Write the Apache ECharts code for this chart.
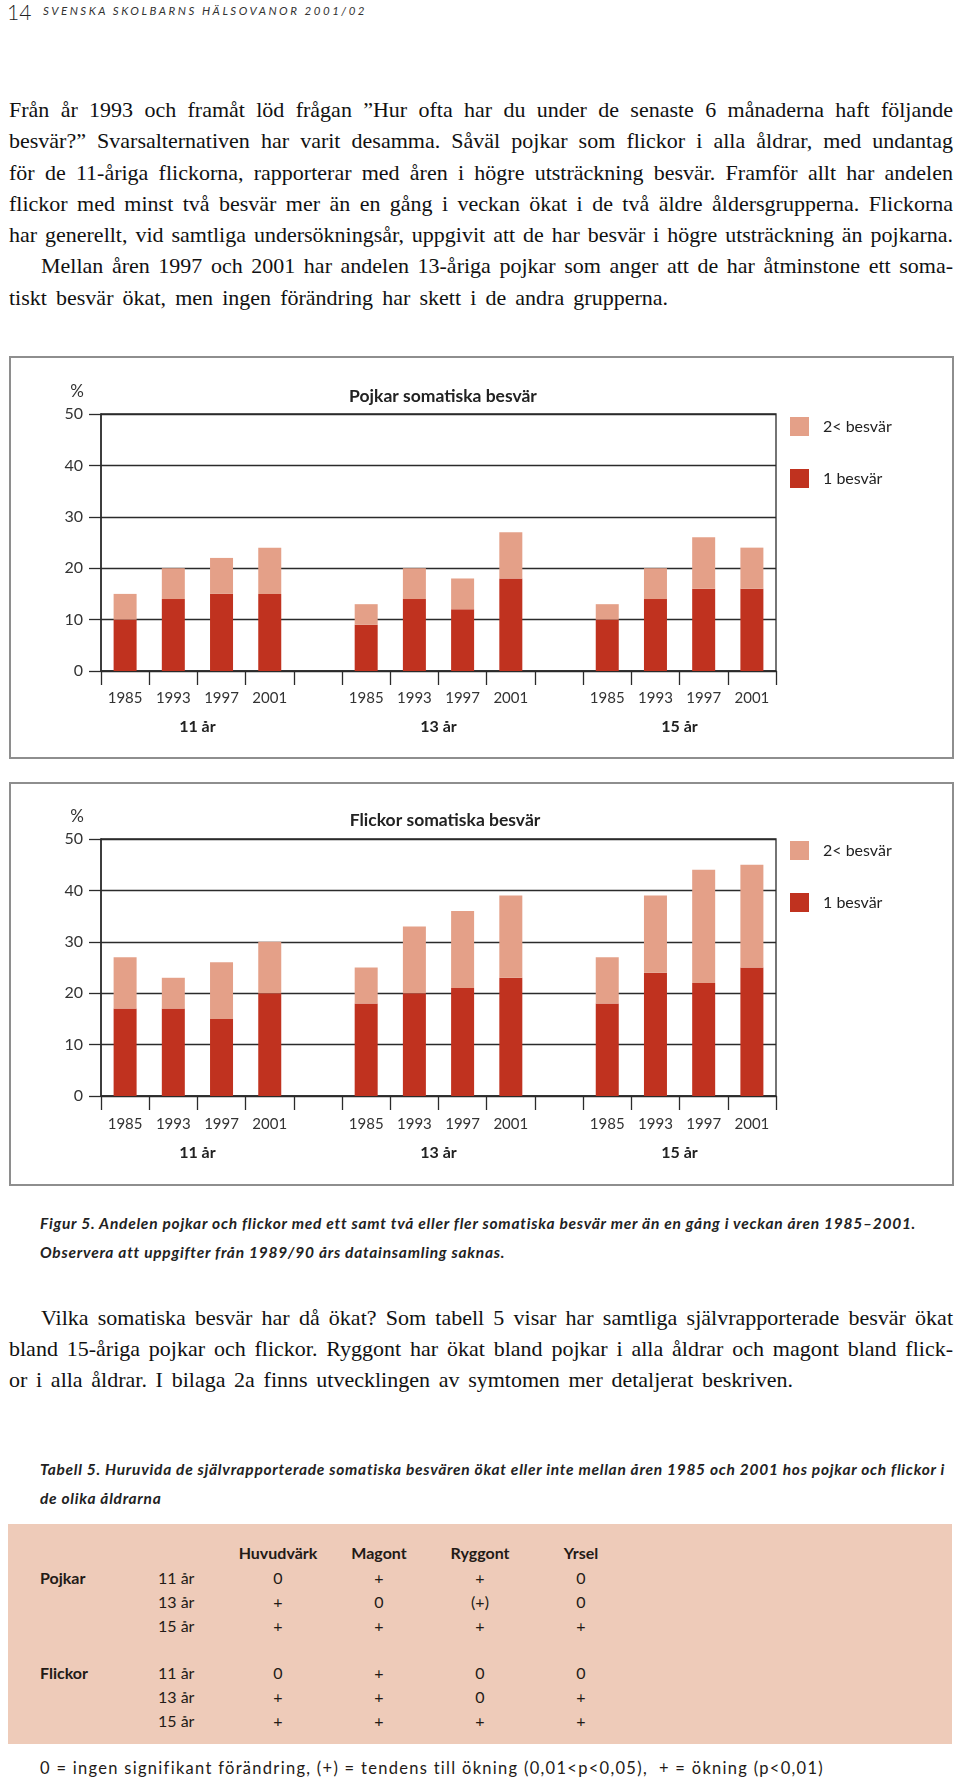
<!DOCTYPE html>
<html>
<head>
<meta charset="utf-8">
<script src="https://cdn.jsdelivr.net/npm/echarts@6/dist/echarts.min.js"></script>
<style>
  html, body { margin: 0; padding: 0; background: #fff; }
  #page { position: relative; width: 960px; height: 1781px; overflow: hidden; color: #1a1a1a; }
  .abs { position: absolute; }
  .serif { font-family: "Liberation Serif", "DejaVu Serif", serif; font-size: 22px; line-height: 31.3px; color: #111; }
  .serif > div { white-space: nowrap; }
  .cap { font-family: Lato, "Open Sans", sans-serif; font-style: italic; font-weight: 700; font-size: 15.5px; line-height: 28.5px; color: #222; white-space: nowrap; }
  .box { border: 2px solid #8e8e8e; box-sizing: border-box; }
  #chart { position: absolute; left: 0; top: 0; width: 960px; height: 1781px; z-index: 2; }
  .tbl { font-family: Lato, "Open Sans", sans-serif; font-size: 16px; color: #231a16; white-space: nowrap; }
  .ind { margin-left: 32px; }
</style>
</head>
<body>
<div id="page">
  <div class="abs" style="left:7px; top:-1px; font-family:Lato,sans-serif; font-weight:300; font-size:21px; line-height:26px; color:#222;">14</div>
  <div class="abs" style="left:43px; top:4px; font-family:Lato,sans-serif; font-style:italic; font-size:11.5px; line-height:14px; color:#333; white-space:nowrap;"><span data-w="324" data-m="letter">SVENSKA SKOLBARNS HÄLSOVANOR 2001/02</span></div>

  <div class="abs serif" style="left:9px; top:94px; width:944px;">
    <div><span data-w="944" data-m="word">Från år 1993 och framåt löd frågan ”Hur ofta har du under de senaste 6 månaderna haft följande</span></div>
    <div><span data-w="944" data-m="word">besvär?” Svarsalternativen har varit desamma. Såväl pojkar som flickor i alla åldrar, med undantag</span></div>
    <div><span data-w="944" data-m="word">för de 11-åriga flickorna, rapporterar med åren i högre utsträckning besvär. Framför allt har andelen</span></div>
    <div><span data-w="944" data-m="word">flickor med minst två besvär mer än en gång i veckan ökat i de två äldre åldersgrupperna. Flickorna</span></div>
    <div><span data-w="944" data-m="word">har generellt, vid samtliga undersökningsår, uppgivit att de har besvär i högre utsträckning än pojkarna.</span></div>
    <div><span class="ind" data-w="912" data-m="word">Mellan åren 1997 och 2001 har andelen 13-åriga pojkar som anger att de har åtminstone ett soma-</span></div>
    <div><span data-w="659" data-m="word">tiskt besvär ökat, men ingen förändring har skett i de andra grupperna.</span></div>
  </div>

  <div class="abs box" style="left:9px; top:356px; width:945px; height:403px;"></div>
  <div class="abs box" style="left:9px; top:782px; width:945px; height:404px;"></div>

  <div class="abs cap" style="left:40px; top:1209px;">
    <div><span id="cap1" data-w="875" data-m="letter">Figur 5. Andelen pojkar och flickor med ett samt två eller fler somatiska besvär mer än en gång i veckan åren 1985–2001.</span></div>
    <div><span data-copy="cap1">Observera att uppgifter från 1989/90 års datainsamling saknas.</span></div>
  </div>

  <div class="abs serif" style="left:9px; top:1302px; width:944px; line-height:31px;">
    <div><span class="ind" data-w="912" data-m="word">Vilka somatiska besvär har då ökat? Som tabell 5 visar har samtliga självrapporterade besvär ökat</span></div>
    <div><span data-w="944" data-m="word">bland 15-åriga pojkar och flickor. Ryggont har ökat bland pojkar i alla åldrar och magont bland flick-</span></div>
    <div><span data-w="784" data-m="word">or i alla åldrar. I bilaga 2a finns utvecklingen av symtomen mer detaljerat beskriven.</span></div>
  </div>

  <div class="abs cap" style="left:40px; top:1455px;">
    <div><span id="cap2" data-w="905" data-m="letter">Tabell 5. Huruvida de självrapporterade somatiska besvären ökat eller inte mellan åren 1985 och 2001 hos pojkar och flickor i</span></div>
    <div><span data-copy="cap2">de olika åldrarna</span></div>
  </div>

  <div id="table" class="abs" style="left:8px; top:1524px; width:944px; height:220px; background:#eecbb9;"></div>

  <div class="abs tbl" style="left:40px; top:1757px; line-height:22px; font-size:16.5px;"><span data-w="784" data-m="letter">0 = ingen signifikant förändring, (+) = tendens till ökning (0,01&lt;p&lt;0,05),&nbsp; + = ökning (p&lt;0,01)</span></div>

  <div id="chart"></div>
</div>

<script>
// ---- chart data ----
const years = ['1985', '1993', '1997', '2001'];
const ages = ['11 år', '13 år', '15 år'];
const yTicks = [0, 10, 20, 30, 40, 50];
// Pojkar: share with 1 complaint, and with 2 or more complaints (stacked on top)
const pojkarEtt      = [10, 14, 15, 15,   9, 14, 12, 18,  10, 14, 16, 16];
const pojkarTvaPlus  = [ 5,  6,  7,  9,   4,  6,  6,  9,   3,  6, 10,  8];
// Flickor
const flickorEtt     = [17, 17, 15, 20,  18, 20, 21, 23,  18, 24, 22, 25];
const flickorTvaPlus = [10,  6, 11, 10,   7, 13, 15, 16,   9, 15, 22, 20];
const seriesNames = ['1 besvär', '2< besvär'];

// ---- table data ----
const symptoms = ['Huvudvärk', 'Magont', 'Ryggont', 'Yrsel'];
const pojkarTrend  = [['0', '+', '+', '0'], ['+', '0', '(+)', '0'], ['+', '+', '+', '+']];
const flickorTrend = [['0', '+', '0', '0'], ['+', '+', '0', '+'], ['+', '+', '+', '+']];

// ---- fit text lines to the printed line lengths ----
(function () {
  document.querySelectorAll('[data-w]').forEach(el => {
    el.style.whiteSpace = 'nowrap';
    el.style.display = 'inline-block';
    const w = el.getBoundingClientRect().width;
    const target = +el.dataset.w;
    if (el.dataset.m === 'word') {
      const n = (el.textContent.match(/ /g) || []).length || 1;
      el.style.wordSpacing = ((target - w) / n) + 'px';
    } else {
      const n = el.textContent.length;
      el.style.letterSpacing = ((target - w) / n) + 'px';
    }
  });
  document.querySelectorAll('[data-copy]').forEach(el => {
    el.style.letterSpacing = document.getElementById(el.dataset.copy).style.letterSpacing;
  });
})();

// ---- build table ----
(function () {
  const t = document.getElementById('table');
  const colX = [270, 371, 472, 573];     // centers relative to table box
  const put = (txt, x, y, style) => {
    const d = document.createElement('div');
    d.className = 'abs tbl';
    d.textContent = txt;
    d.style.top = (y - 11) + 'px';
    d.style.lineHeight = '22px';
    if (style.center) { d.style.left = (x - 60) + 'px'; d.style.width = '120px'; d.style.textAlign = 'center'; }
    else d.style.left = x + 'px';
    if (style.bold) d.style.fontWeight = '700';
    t.appendChild(d);
  };
  symptoms.forEach((s, i) => put(s, colX[i], 29, { center: true, bold: true }));
  const groups = [['Pojkar', pojkarTrend, 54], ['Flickor', flickorTrend, 149]];
  groups.forEach(([name, rows, y0]) => {
    put(name, 32, y0, { bold: true });
    rows.forEach((r, ri) => {
      const y = y0 + ri * 24;
      put(ages[ri], 150, y, {});
      r.forEach((v, ci) => put(v, colX[ci], y, { center: true }));
    });
  });
})();

// ---- build chart ----
function withGaps(arr, fill) {
  const out = [];
  ages.forEach((a, i) => {
    for (let k = 0; k < years.length; k++) out.push(arr[i * years.length + k]);
    if (i < ages.length - 1) out.push(fill);
  });
  return out;
}
const cats = withGaps(ages.flatMap(() => years), '');
const nCats = cats.length;
const groupCenter = {};
ages.forEach((a, i) => { groupCenter[i * (years.length + 1) + years.length / 2] = a; });

const FONT = 'Lato';
const dark = '#c0321f', light = '#e4a088', ink = '#2b2b2b';

function grid(top) { return { left: 101, width: 675, top: top, height: 257, show: true, borderColor: ink, borderWidth: 1.3, backgroundColor: 'transparent' }; }
function catAxis(gi, margin) {
  return {
    type: 'category', gridIndex: gi, data: cats, position: 'bottom',
    axisLine: { lineStyle: { color: ink, width: 1.5 } },
    axisTick: { show: true, interval: 0, length: 14, lineStyle: { color: ink, width: 1.3 } },
    axisLabel: { interval: 0, margin: margin, fontFamily: FONT, fontSize: 15, color: '#333' },
    splitLine: { show: false }
  };
}
function groupAxis(gi, margin) {
  return {
    type: 'value', gridIndex: gi, min: 0, max: nCats, interval: 1, position: 'bottom',
    axisLine: { show: false }, axisTick: { show: false }, splitLine: { show: false },
    axisLabel: { margin: margin, fontFamily: FONT, fontSize: 16, fontWeight: 'bold', color: '#222',
      formatter: v => groupCenter[v] || '' }
  };
}
function valAxis(gi) {
  return {
    type: 'value', gridIndex: gi, min: yTicks[0], max: yTicks[yTicks.length - 1], interval: yTicks[1] - yTicks[0],
    name: '%', nameLocation: 'end', nameGap: 14,
    nameTextStyle: { align: 'right', padding: [0, 17, 0, 0], fontFamily: FONT, fontSize: 17, color: '#333' },
    axisLine: { show: true, lineStyle: { color: ink, width: 1.5 } },
    axisTick: { show: true, length: 12, lineStyle: { color: ink, width: 1.3 } },
    axisLabel: { margin: 18, fontFamily: FONT, fontSize: 16, color: '#333' },
    splitLine: { show: true, lineStyle: { color: ink, width: 1.3 } }
  };
}
function legend(top) {
  return {
    data: [seriesNames[1], seriesNames[0]], orient: 'vertical', left: 790, top: top, padding: 0,
    itemWidth: 19, itemHeight: 19, itemGap: 33, icon: 'rect', selectedMode: false,
    textStyle: { fontFamily: FONT, fontSize: 16, color: '#222', padding: [0, 0, 0, 9] }
  };
}
function bars(xi, yi, stack, ett, tva) {
  return [
    { name: seriesNames[0], type: 'bar', stack: stack, xAxisIndex: xi, yAxisIndex: yi, barWidth: 23,
      itemStyle: { color: dark }, data: withGaps(ett, null), animation: false },
    { name: seriesNames[1], type: 'bar', stack: stack, xAxisIndex: xi, yAxisIndex: yi, barWidth: 23,
      itemStyle: { color: light }, data: withGaps(tva, null), animation: false }
  ];
}

const chart = echarts.init(document.getElementById('chart'), null, { renderer: 'canvas', width: 960, height: 1781 });
chart.setOption({
  animation: false,
  backgroundColor: 'transparent',
  title: [
    { text: 'Pojkar somatiska besvär', left: 438, top: 382, textAlign: 'center',
      textStyle: { fontFamily: FONT, fontSize: 17.5, fontWeight: 'bold', color: '#222' } },
    { text: 'Flickor somatiska besvär', left: 440, top: 806, textAlign: 'center',
      textStyle: { fontFamily: FONT, fontSize: 17.5, fontWeight: 'bold', color: '#222' } }
  ],
  legend: [legend(417), legend(841)],
  grid: [grid(414), grid(839)],
  xAxis: [catAxis(0, 20), groupAxis(0, 48), catAxis(1, 21), groupAxis(1, 49)],
  yAxis: [valAxis(0), valAxis(1)],
  series: [].concat(
    bars(0, 0, 'pojkar', pojkarEtt, pojkarTvaPlus),
    bars(2, 1, 'flickor', flickorEtt, flickorTvaPlus)
  )
});
</script>
</body>
</html>
